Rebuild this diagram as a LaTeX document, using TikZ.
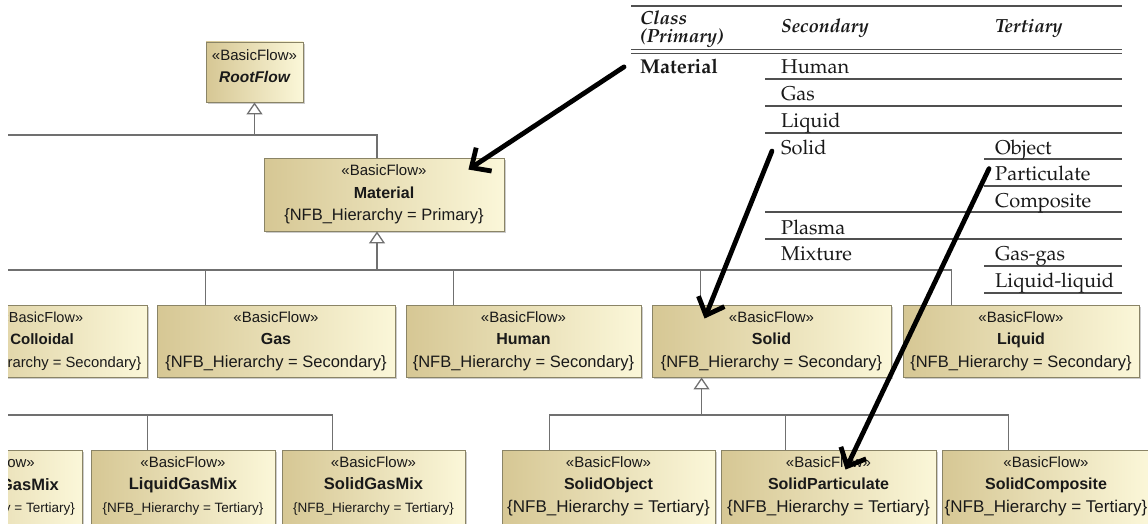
\documentclass[tikz,border=0pt]{standalone}
\usepackage[T1,TU]{fontenc}
\usepackage{fontspec}
\usetikzlibrary{arrows.meta,shadows}
\newfontfamily\umlfont{Liberation Sans}
\newcommand\palfont{\fontencoding{T1}\fontfamily{ppl}\selectfont}
\newcommand\flowname[1]{{\bfseries\fontsize{16}{22.5}\selectfont #1}}
\newcommand\flowtag[2]{{\fontsize{#1}{22.5}\selectfont\{NFB\_Hierarchy = #2\}}}
\definecolor{boxdark}{HTML}{D6C794}
\definecolor{boxlight}{HTML}{FBF7D9}
\definecolor{boxedge}{HTML}{8A8466}
\definecolor{linkgray}{HTML}{707070}
\definecolor{rulegray}{HTML}{505050}

\begin{document}
\begin{tikzpicture}[x=1pt,y=-1pt,
	flowbox/.style={draw=boxedge, line width=0.9pt, left color=boxdark, right color=boxlight,
		drop shadow={shadow xshift=2pt, shadow yshift=-2pt, fill=black!40, opacity=0.5},
		inner sep=0pt, align=center, minimum height=72pt, text=black!90,
		font=\umlfont\fontsize{15}{22.5}\selectfont},
	cutrow/.style={flowbox, minimum height=84pt, text depth=15pt},
	flowtext/.style={anchor=base east, inner sep=0pt, text=black!90},
	link/.style={draw=linkgray, line width=1.3pt},
	gen/.style={link, -{Triangle[open, length=12pt, width=16pt]}},
	bigarrow/.style={draw=black, line width=4.8pt, line cap=round, -{Straight Barb[length=15pt, width=28pt]}},
	cell/.style={anchor=base west, inner sep=0pt, text=black!90, font=\palfont\fontsize{20}{24}\selectfont},
	headcell/.style={cell, font=\palfont\fontsize{19}{20}\selectfont\bfseries\itshape},
	rule/.style={draw=rulegray, line width=1.1pt}
]
	\useasboundingbox (0,0) rectangle (1148,524);
	\begin{scope}
	\clip (8,0) rectangle (1148,524);
	% class hierarchy
	\node[flowbox, minimum width=97pt, minimum height=60pt, text depth=12pt] (root) at (254.5,72)
		{«BasicFlow»\\{\bfseries\itshape\fontsize{15.5}{22.5}\selectfont RootFlow}};
	\node[flowbox, minimum width=240pt, minimum height=73pt] (mat) at (384,194.5)
		{«BasicFlow»\\\flowname{Material}\\\flowtag{16.5}{Primary}};

	\node[flowbox, minimum width=210pt, font=\umlfont\fontsize{14.5}{22.5}\selectfont] (coll) at (42,341)
		{«BasicFlow»\\{\bfseries\fontsize{15}{22.5}\selectfont Colloidal}\\\flowtag{14.8}{Secondary}};
	\node[flowbox, minimum width=238pt] (gas) at (276,341)
		{«BasicFlow»\\\flowname{Gas}\\\flowtag{16.5}{Secondary}};
	\node[flowbox, minimum width=235pt] (human) at (523.5,341)
		{«BasicFlow»\\\flowname{Human}\\\flowtag{16.5}{Secondary}};
	\node[flowbox, minimum width=239pt] (solid) at (771.5,341)
		{«BasicFlow»\\\flowname{Solid}\\\flowtag{16.5}{Secondary}};
	\node[flowbox, minimum width=236pt] (liquid) at (1021,341)
		{«BasicFlow»\\\flowname{Liquid}\\\flowtag{16.5}{Secondary}};

	\node[cutrow, minimum width=184pt] (gmx) at (-10,492) {};
	\node[flowtext, font=\umlfont\fontsize{15}{18}\selectfont] (gmxst) at (35,467.5) {«BasicFlow»};
	\node[flowtext, font=\umlfont\fontsize{16.5}{18}\selectfont\bfseries] (gmxname) at (59,490) {GasMix};
	\node[flowtext, font=\umlfont\fontsize{13.5}{18}\selectfont] (gmxtag) at (75,512.5) {\{NFB\_Hierarchy = Tertiary\}};
	\node[cutrow, minimum width=184pt] (lgm) at (183,492)
		{«BasicFlow»\\{\bfseries\fontsize{16.5}{22.5}\selectfont LiquidGasMix}\\\flowtag{13.5}{Tertiary}};
	\node[cutrow, minimum width=183pt] (sgm) at (373.5,492)
		{«BasicFlow»\\{\bfseries\fontsize{16.5}{22.5}\selectfont SolidGasMix}\\\flowtag{13.5}{Tertiary}};
	\node[cutrow, minimum width=213pt] (sobj) at (608.5,492)
		{«BasicFlow»\\\flowname{SolidObject}\\\flowtag{17}{Tertiary}};
	\node[cutrow, minimum width=215pt] (spart) at (828.5,492)
		{«BasicFlow»\\\flowname{SolidParticulate}\\\flowtag{17}{Tertiary}};
	\node[cutrow, minimum width=208pt] (scomp) at (1046,492)
		{«BasicFlow»\\\flowname{SolidComposite}\\\flowtag{17}{Tertiary}};

	% generalizations
	\coordinate (busA) at (8,135);
	\coordinate (busB) at (8,270);
	\coordinate (busC) at (8,415);
	\coordinate (matup) at ([xshift=-7pt]mat.north);
	\coordinate (matdown) at ([xshift=-7pt]mat.south);
	\draw[link] (matup) |- (busA);
	\draw[gen] (root.south |- busA) -- (root.south);
	\draw[gen] (matdown |- busB) -- (matdown);
	\draw[link] (busB) -| ([xshift=49pt]liquid.north west);
	\foreach \n/\s in {gas/49, human/48, solid/49}
		\draw[link] ([xshift=\s pt]\n.north west) coordinate (t) -- (t |- busB);

	\coordinate (solidup) at ([xshift=50pt]solid.south west);
	\coordinate (sobjtop) at ([xshift=48pt]sobj.north west);
	\coordinate (sparttop) at ([xshift=65pt]spart.north west);
	\coordinate (scomptop) at ([xshift=67pt]scomp.north west);
	\draw[gen] (solidup |- busC) -- (solidup);
	\draw[link] (sobjtop) -- (sobjtop |- busC) -- (scomptop |- busC) -- (scomptop);
	\draw[link] (sparttop) -- (sparttop |- busC);

	\coordinate (lgmtop) at ([xshift=57pt]lgm.north west);
	\coordinate (sgmtop) at ([xshift=51pt]sgm.north west);
	\draw[link] (busC) -| (sgmtop);
	\draw[link] (lgmtop) -- (lgmtop |- busC);
	\end{scope}

	% classification table
	\draw[rule] (631,6) -- (1122,6);
	\draw[rule, line width=1.8pt] (631,49.5) -- (1122,49.5);
	\draw[rule, line width=1.8pt] (631,53.5) -- (1122,53.5);
	\foreach \y in {79,106,133,212,239}
		\draw[rule] (765,\y) -- (1122,\y);
	\foreach \y in {159,186,266,293}
		\draw[rule] (984,\y) -- (1122,\y);

	\node[headcell] (thclass) at (640,25) {Class};
	\node[headcell] (thprim) at (640,43) {(Primary)};
	\node[headcell] (thsec) at (781,33) {Secondary};
	\node[headcell] (thter) at (995,33) {Tertiary};

	\node[cell, font=\palfont\fontsize{20}{24}\selectfont\bfseries] (tmat) at (640,74) {Material};
	\node[cell] (thuman) at (781,74) {Human};
	\node[cell] (tgas) at (781,100.7) {Gas};
	\node[cell] (tliquid) at (781,127.3) {Liquid};
	\node[cell] (tsolid) at (781,154) {Solid};
	\node[cell] (tplasma) at (781,234) {Plasma};
	\node[cell] (tmix) at (781,260.7) {Mixture};
	\node[cell] (tobj) at (995,154) {Object};
	\node[cell] (tpart) at (995,180.7) {Particulate};
	\node[cell] (tcomp) at (995,207.3) {Composite};
	\node[cell] (tgg) at (995,260.7) {Gas-gas};
	\node[cell] (tll) at (995,287.3) {Liquid-liquid};

	% pointers from table to classes
	\draw[bigarrow] ([xshift=-16pt]tmat.west) -- ([xshift=-36pt,yshift=-12pt]mat.north east);
	\draw[bigarrow] ([xshift=-9pt,yshift=-4pt]tsolid.west) -- ([xshift=53pt,yshift=-14pt]solid.north west);
	\draw[bigarrow] ([xshift=-6pt,yshift=5pt]tpart.west) -- ([xshift=125pt,yshift=-20pt]spart.north west);
\end{tikzpicture}
\end{document}
